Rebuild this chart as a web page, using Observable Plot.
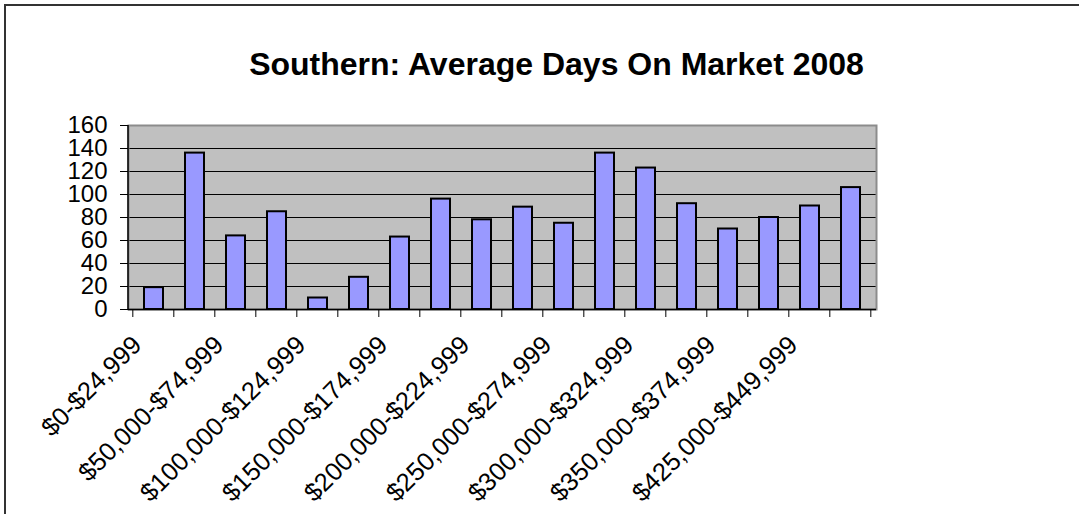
<!DOCTYPE html>
<html>
<head>
<meta charset="utf-8">
<script src="https://cdn.jsdelivr.net/npm/d3@7"></script>
<script src="https://cdn.jsdelivr.net/npm/@observablehq/plot@0.6"></script>
<style>
  html, body { margin: 0; padding: 0; background: #fff; }
  #wrap { position: relative; width: 1079px; height: 514px; overflow: hidden; font-family: "Liberation Sans", Arial, sans-serif; }
  #border { position: absolute; left: 4px; top: 4px; width: 1100px; height: 540px; border-left: 2px solid #333; border-top: 2px solid #333; pointer-events: none; }
  #title { height: 100px; box-sizing: border-box; padding-top: 48px; padding-left: 34px; text-align: center; font-size: 32px; line-height: 32px; font-weight: bold; color: #000; }
  svg { display: block; }
</style>
</head>
<body>
<div id="wrap">
  <div id="title">Southern: Average Days On Market 2008</div>
  <div id="chart"></div>
  <div id="border"></div>
</div>
<script>
const categories = [
  "$0-$24,999", "$25,000-$49,999", "$50,000-$74,999", "$75,000-$99,999",
  "$100,000-$124,999", "$125,000-$149,999", "$150,000-$174,999", "$175,000-$199,999",
  "$200,000-$224,999", "$225,000-$249,999", "$250,000-$274,999", "$275,000-$299,999",
  "$300,000-$324,999", "$325,000-$349,999", "$350,000-$374,999", "$375,000-$424,999",
  "$425,000-$449,999", "$450,000+"
];
const days = [19, 136, 64, 85, 10, 28, 63, 96, 78, 89, 75, 136, 123, 92, 70, 80, 90, 106];
const yTicks = [0, 20, 40, 60, 80, 100, 120, 140, 160];
const gridLines = [20, 40, 60, 80, 100, 120, 140];
const shownLabels = categories.filter((c, i) => i % 2 === 0);

const data = categories.map((c, i) => ({cat: c, days: days[i]}));
const labelData = shownLabels.map(c => ({cat: c}));

const PAD = 0.545;

function boundaryTicks(index, scales, values, dimensions) {
  const {width, height, marginLeft, marginRight, marginTop, marginBottom} = dimensions;
  const x = scales.x;
  const step = x(categories[1]) - x(categories[0]);
  const g = d3.create("svg:g");
  const y0 = height - marginBottom;
  const bounds = categories.map(c => x(c) - step * PAD / 2);
  bounds.push(x(categories[categories.length - 1]) + step - step * PAD / 2);
  for (const b of bounds) {
    g.append("line").attr("x1", b).attr("x2", b).attr("y1", y0).attr("y2", y0 + 8)
      .attr("stroke", "black").attr("stroke-width", 1);
  }
  g.append("line").attr("x1", marginLeft).attr("x2", marginLeft)
    .attr("y1", marginTop).attr("y2", y0).attr("stroke", "black").attr("stroke-width", 1.5);
  return g.node();
}

const chart = Plot.plot({
  width: 1079,
  height: 414,
  marginLeft: 128,
  marginRight: 203,
  marginTop: 25,
  marginBottom: 205,
  style: {fontFamily: "'Liberation Sans', Arial, sans-serif", fontSize: "24px", color: "black", background: "transparent", overflow: "visible"},
  x: {domain: categories, paddingInner: PAD, paddingOuter: PAD / 2, axis: null},
  y: {domain: [0, 160]},
  marks: [
    Plot.frame({fill: "#c0c0c0"}),
    Plot.ruleY(gridLines, {stroke: "black", strokeWidth: 1}),
    Plot.frame({stroke: "#8c8c8c", strokeWidth: 2}),
    Plot.barY(data, {x: "cat", y: "days", fill: "#9999ff", stroke: "black", strokeWidth: 2}),
    Plot.ruleY([0], {stroke: "black", strokeWidth: 1.5}),
    boundaryTicks,
    Plot.axisY({ticks: yTicks, tickSize: 8, tickPadding: 13, fontSize: 24, label: null, stroke: "black"}),
    Plot.text(labelData, {x: "cat", y: () => 0, text: "cat", rotate: -45, textAnchor: "end", lineAnchor: "bottom", dx: -11, dy: 37, fontSize: 25.5, fill: "black"})
  ]
});
document.getElementById("chart").appendChild(chart);
</script>
</body>
</html>
